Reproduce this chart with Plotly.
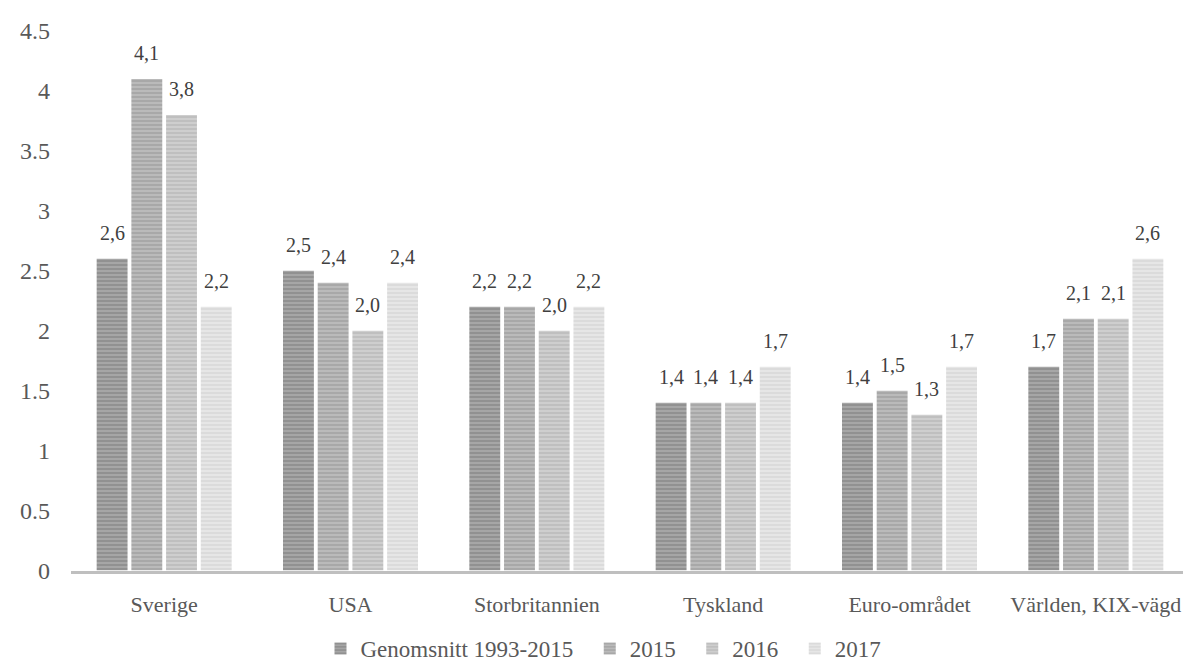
import plotly.graph_objects as go

categories = ["Sverige", "USA", "Storbritannien", "Tyskland", "Euro-området", "Världen, KIX-vägd"]
series_names = ["Genomsnitt 1993-2015", "2015", "2016", "2017"]
avg_1993_2015 = [2.6, 2.5, 2.2, 1.4, 1.4, 1.7]
y2015 = [4.1, 2.4, 2.2, 1.4, 1.5, 2.1]
y2016 = [3.8, 2.0, 2.0, 1.4, 1.3, 2.1]
y2017 = [2.2, 2.4, 2.2, 1.7, 1.7, 2.6]
series_values = [avg_1993_2015, y2015, y2016, y2017]
y_ticks = [0, 0.5, 1, 1.5, 2, 2.5, 3, 3.5, 4, 4.5]

bg_colors = ["#a6a6a6", "#bababa", "#cecece", "#e6e6e6"]
fg_colors = ["#787878", "#939393", "#adadad", "#cfcfcf"]

W, H = 1191, 662
ML, MR, MT, MB = 63, 10, 20, 86
BARGAP = 0.255
GROUPGAP = 0.11

fig = go.Figure()
for i, (name, vals) in enumerate(zip(series_names, series_values)):
    fig.add_trace(go.Bar(
        x=categories, y=vals, name=name + ("\u00a0\u00a0" if i < 3 else ""),
        marker=dict(color=bg_colors[i], line=dict(width=0),
                    pattern=dict(shape="-", fgcolor=fg_colors[i], bgcolor=bg_colors[i],
                                 size=4, solidity=0.45, fillmode="overlay")),
    ))

cat_px = (W - ML - MR) / len(categories)
slot = cat_px * (1 - BARGAP) / len(series_names)
for i, vals in enumerate(series_values):
    for c, v in zip(categories, vals):
        fig.add_annotation(
            x=c, y=v, xref="x", yref="y",
            text=f"{v:.1f}".replace(".", ","),
            showarrow=False, yanchor="bottom",
            xshift=(i - 1.5) * slot, yshift=13,
            font=dict(family="Liberation Serif", size=20, color="#404040"),
        )

fig.update_layout(
    width=W, height=H,
    margin=dict(l=ML, r=MR, t=MT, b=MB),
    paper_bgcolor="white", plot_bgcolor="white",
    barmode="group", bargap=BARGAP, bargroupgap=GROUPGAP,
    font=dict(family="Liberation Serif", size=22, color="#595959"),
    showlegend=True,
    legend=dict(orientation="h", xref="container", yref="container",
                x=0.5, xanchor="center", y=0.0, yanchor="bottom",
                font=dict(size=23, color="#595959"), itemwidth=30,
                traceorder="normal"),
)
fig.update_yaxes(range=[0, 4.5], tickvals=y_ticks, ticktext=[f"{t:g}" for t in y_ticks],
                 showgrid=False, zeroline=False, showline=False,
                 tickfont=dict(size=24, color="#595959"), ticks="", ticklabelstandoff=20)
fig.update_xaxes(showline=True, linecolor="#bfbfbf", linewidth=3, ticks="",
                 tickfont=dict(size=22, color="#595959"), ticklabelstandoff=12)

fig.write_html("out.html")
